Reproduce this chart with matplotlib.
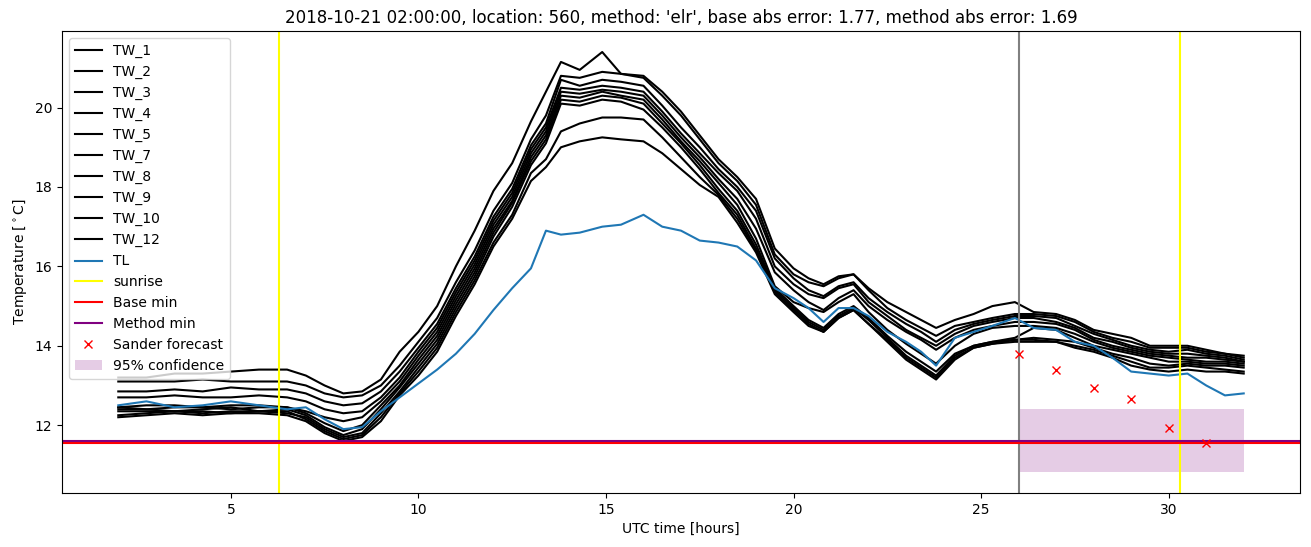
import matplotlib

matplotlib.use("Agg")
import matplotlib.pyplot as plt


# hours since 2018-10-21 00:00 UTC
HOURS = [
    2.0, 2.75, 3.5, 4.25, 5.0, 5.75, 6.5, 7.0, 7.5, 8.0, 8.5,
    9.0, 9.5, 10.0, 10.5, 11.0, 11.5, 12.0, 12.5, 13.0, 13.4, 13.8,
    14.3, 14.9, 15.4, 16.0,
    16.5, 17.0, 17.5, 18.0, 18.5, 19.0, 19.5, 20.0, 20.4, 20.8,
    21.2, 21.6, 22.0, 22.5, 23.0, 23.4, 23.8, 24.3, 24.8, 25.3, 25.9,
    26.4, 27.0, 27.5, 28.0, 28.5, 29.0, 29.5, 30.0, 30.5, 31.0, 31.5, 32.0,
]

TW_1 = [
    13.2, 13.2, 13.3, 13.3, 13.35, 13.4, 13.4, 13.25, 13.0, 12.8, 12.85,
    13.15, 13.85, 14.35, 15.0, 16.0, 16.9, 17.9, 18.6, 19.65, 20.4, 21.15,
    20.95, 21.4, 20.85, 20.8,
    20.4, 19.9, 19.3, 18.7, 18.25, 17.7, 16.45, 15.95, 15.7, 15.55,
    15.75, 15.8, 15.45, 15.1, 14.85, 14.65, 14.45, 14.65, 14.8, 15.0, 15.1,
    14.85, 14.8, 14.65, 14.4, 14.3, 14.2, 14.0, 14.0, 14.0, 13.9, 13.8, 13.75,
]
TW_2 = [
    13.1, 13.1, 13.1, 13.15, 13.1, 13.1, 13.1, 13.0, 12.8, 12.7, 12.75,
    13.0, 13.5, 14.1, 14.7, 15.6, 16.4, 17.4, 18.1, 19.2, 19.8, 20.8,
    20.75, 20.9, 20.85, 20.75,
    20.3, 19.8, 19.2, 18.6, 18.15, 17.55, 16.3, 15.8, 15.6, 15.5,
    15.7, 15.8, 15.4, 14.95, 14.65, 14.45, 14.25, 14.5, 14.6, 14.7, 14.8,
    14.8, 14.75, 14.6, 14.35, 14.2, 14.1, 13.95, 13.95, 13.95, 13.85, 13.8, 13.7,
]
TW_3 = [
    12.85, 12.85, 12.9, 12.85, 12.95, 12.9, 12.9, 12.8, 12.6, 12.5, 12.55,
    12.85, 13.35, 13.95, 14.55, 15.45, 16.25, 17.25, 17.95, 19.05, 19.6, 20.7,
    20.55, 20.7, 20.65, 20.55,
    20.05, 19.5, 19.0, 18.45, 18.0, 17.4, 16.2, 15.7, 15.4, 15.25,
    15.5, 15.6, 15.2, 14.85, 14.55, 14.35, 14.1, 14.4, 14.55, 14.65, 14.75,
    14.75, 14.7, 14.5, 14.3, 14.15, 14.0, 13.9, 13.85, 13.9, 13.8, 13.75, 13.65,
]
TW_4 = [
    12.7, 12.7, 12.75, 12.7, 12.7, 12.75, 12.7, 12.6, 12.4, 12.3, 12.35,
    12.7, 13.2, 13.85, 14.45, 15.35, 16.15, 17.15, 17.85, 18.95, 19.5, 20.5,
    20.45, 20.55, 20.5, 20.4,
    19.9, 19.35, 18.85, 18.35, 17.9, 17.2, 16.0, 15.55, 15.3, 15.2,
    15.45, 15.55, 15.1, 14.75, 14.4, 14.2, 14.0, 14.3, 14.5, 14.6, 14.7,
    14.7, 14.6, 14.45, 14.2, 14.1, 13.95, 13.85, 13.8, 13.8, 13.75, 13.7, 13.6,
]
TW_5 = [
    12.45, 12.5, 12.5, 12.45, 12.5, 12.5, 12.45, 12.35, 12.2, 12.1, 12.2,
    12.6, 13.1, 13.75, 14.35, 15.25, 16.05, 17.05, 17.75, 18.85, 19.4, 20.4,
    20.35, 20.45, 20.4, 20.3,
    19.8, 19.25, 18.75, 18.2, 17.7, 16.95, 15.85, 15.4, 15.1, 14.9,
    15.2, 15.4, 15.0, 14.65, 14.35, 14.15, 13.9, 14.2, 14.4, 14.5, 14.6,
    14.6, 14.55, 14.4, 14.15, 14.0, 13.9, 13.8, 13.75, 13.7, 13.7, 13.65, 13.6,
]
TW_7 = [
    12.45, 12.4, 12.45, 12.45, 12.4, 12.45, 12.45, 12.3, 12.05, 11.85, 12.0,
    12.5, 13.0, 13.65, 14.25, 15.15, 15.95, 16.95, 17.65, 18.75, 19.3, 20.3,
    20.25, 20.4, 20.3, 20.2,
    19.7, 19.15, 18.65, 18.1, 17.55, 16.7, 15.5, 15.1, 14.95, 14.85,
    15.1, 15.3, 14.85, 14.4, 14.05, 13.8, 13.55, 14.0, 14.3, 14.45, 14.5,
    14.5, 14.45, 14.3, 14.1, 13.95, 13.85, 13.75, 13.7, 13.65, 13.6, 13.6, 13.55,
]
TW_8 = [
    12.4, 12.4, 12.35, 12.4, 12.45, 12.35, 12.4, 12.25, 11.95, 11.75, 11.9,
    12.4, 12.95, 13.55, 14.15, 15.05, 15.85, 16.85, 17.6, 18.65, 19.2, 20.2,
    20.15, 20.3, 20.25, 20.1,
    19.6, 19.1, 18.55, 17.95, 17.4, 16.55, 15.45, 15.0, 14.65, 14.45,
    14.8, 15.0, 14.7, 14.25, 13.85, 13.6, 13.35, 13.8, 14.0, 14.1, 14.2,
    14.45, 14.4, 14.2, 14.0, 13.9, 13.8, 13.7, 13.6, 13.6, 13.55, 13.55, 13.5,
]
TW_9 = [
    12.35, 12.35, 12.35, 12.3, 12.35, 12.35, 12.3, 12.2, 11.9, 11.7, 11.8,
    12.3, 12.85, 13.45, 14.05, 14.95, 15.75, 16.75, 17.5, 18.55, 19.1, 20.1,
    20.05, 20.2, 20.15, 19.95,
    19.5, 19.0, 18.45, 17.85, 17.3, 16.45, 15.4, 14.95, 14.6, 14.4,
    14.75, 14.95, 14.65, 14.2, 13.75, 13.5, 13.25, 13.75, 14.0, 14.1, 14.15,
    14.2, 14.15, 14.1, 13.95, 13.8, 13.7, 13.55, 13.5, 13.55, 13.5, 13.5, 13.45,
]
TW_10 = [
    12.25, 12.3, 12.35, 12.35, 12.3, 12.35, 12.35, 12.15, 11.85, 11.65, 11.75,
    12.2, 12.8, 13.35, 13.95, 14.85, 15.65, 16.6, 17.3, 18.35, 18.7, 19.4,
    19.6, 19.75, 19.75, 19.7,
    19.25, 18.75, 18.25, 17.8, 17.2, 16.4, 15.35, 14.9, 14.55, 14.35,
    14.7, 14.9, 14.55, 14.15, 13.7, 13.45, 13.2, 13.7, 13.95, 14.05, 14.15,
    14.15, 14.1, 14.0, 13.9, 13.75, 13.6, 13.45, 13.45, 13.5, 13.45, 13.4, 13.35,
]
TW_12 = [
    12.2, 12.25, 12.3, 12.25, 12.3, 12.3, 12.25, 12.1, 11.8, 11.6, 11.7,
    12.1, 12.75, 13.25, 13.85, 14.75, 15.55, 16.5, 17.2, 18.15, 18.5, 19.0,
    19.15, 19.25, 19.2, 19.15,
    18.85, 18.45, 18.05, 17.75, 17.1, 16.35, 15.3, 14.85, 14.5, 14.35,
    14.7, 14.9, 14.55, 14.1, 13.65, 13.4, 13.15, 13.65, 13.95, 14.05, 14.1,
    14.1, 14.1, 13.95, 13.85, 13.7, 13.5, 13.4, 13.35, 13.4, 13.35, 13.35, 13.3,
]
TL = [
    12.5, 12.6, 12.45, 12.5, 12.6, 12.5, 12.4, 12.45, 12.15, 11.9, 11.95,
    12.35, 12.7, 13.05, 13.4, 13.8, 14.3, 14.9, 15.45, 15.95, 16.9, 16.8,
    16.85, 17.0, 17.05, 17.3,
    17.0, 16.9, 16.65, 16.6, 16.5, 16.15, 15.45, 15.2, 14.95, 14.6,
    14.95, 14.95, 14.75, 14.35, 14.1, 13.85, 13.5, 14.2, 14.35, 14.5, 14.7,
    14.45, 14.4, 14.1, 14.0, 13.7, 13.35, 13.3, 13.25, 13.3, 13.0, 12.75, 12.8,
]

TW_NAMES = ["TW_1", "TW_2", "TW_3", "TW_4", "TW_5", "TW_7", "TW_8", "TW_9", "TW_10", "TW_12"]
TW_SERIES = [TW_1, TW_2, TW_3, TW_4, TW_5, TW_7, TW_8, TW_9, TW_10, TW_12]

SUNRISE_HOURS = [6.28, 30.29]
FORECAST_START = 26.0
BASE_MIN = 11.56
METHOD_MIN = 11.605

SANDER_HOURS = [26, 27, 28, 29, 30, 31]
SANDER_VALUES = [13.79, 13.39, 12.93, 12.67, 11.94, 11.54]

CONF_HOURS = [26, 32]
CONF_LOW = 10.82
CONF_HIGH = 12.4

TITLE = ("2018-10-21 02:00:00, location: 560, method: 'elr', "
         "base abs error: 1.77, method abs error: 1.69")


def main() -> None:
    fig, ax = plt.subplots(figsize=(13.11, 5.47), dpi=100)

    for name, values in zip(TW_NAMES, TW_SERIES):
        ax.plot(HOURS, values, color="black", label=name)
    ax.plot(HOURS, TL, color="tab:blue", label="TL")

    ax.axvline(SUNRISE_HOURS[0], color="yellow", label="sunrise")
    ax.axvline(SUNRISE_HOURS[1], color="yellow")
    ax.axvline(FORECAST_START, color="gray")

    ax.axhline(BASE_MIN, color="red", label="Base min")
    ax.axhline(METHOD_MIN, color="purple", label="Method min")

    ax.plot(SANDER_HOURS, SANDER_VALUES, "x", color="red", label="Sander forecast")
    ax.fill_between(CONF_HOURS, CONF_LOW, CONF_HIGH, color="purple", alpha=0.2,
                    linewidth=0, label="95% confidence")

    ax.set_title(TITLE)
    ax.set_xlabel("UTC time [hours]")
    ax.set_ylabel("Temperature [$^\\circ$C]")
    ax.legend(loc="upper left")

    fig.subplots_adjust(left=0.0473, right=0.9916, top=0.9433, bottom=0.0987)
    fig.savefig("out.png", dpi=100)
    plt.close(fig)


if __name__ == "__main__":
    main()
